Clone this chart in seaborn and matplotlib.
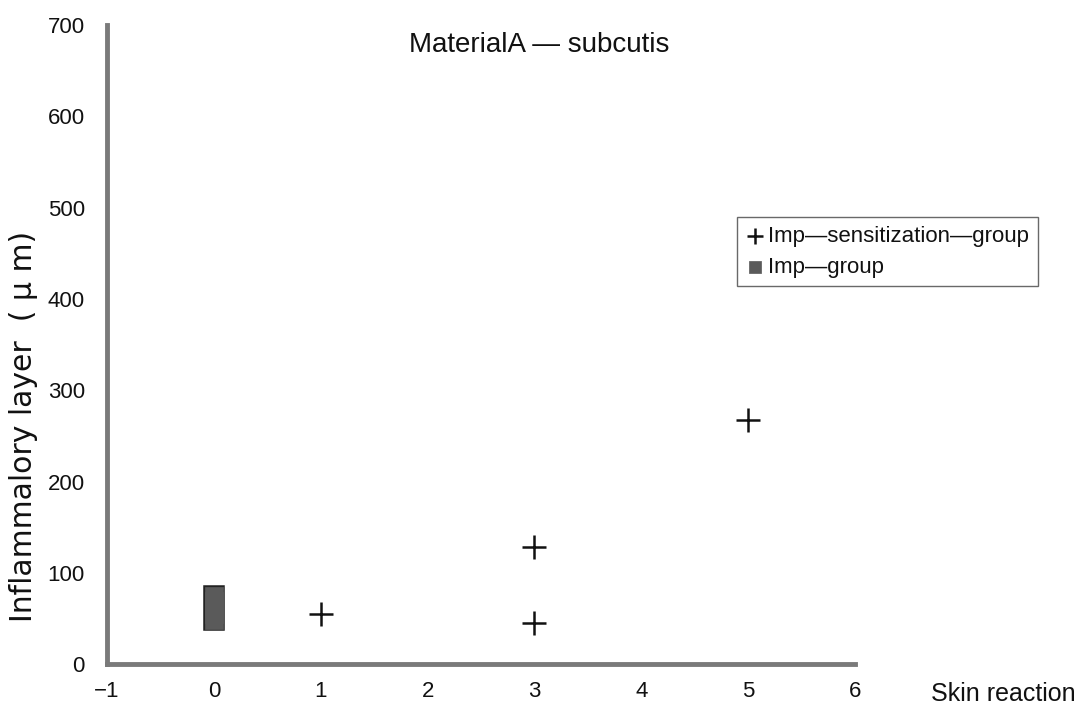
import matplotlib
matplotlib.use("Agg")
import matplotlib.pyplot as plt
import seaborn as sns
import pandas as pd

# Imp-sensitization-group: skin reaction score vs inflammatory layer thickness
sens_x = [1, 3, 3, 5]
sens_y = [55, 128, 45, 268]
# Imp-group: all at skin reaction 0
imp_x = [0, 0, 0, 0, 0]
imp_y = [48, 55, 62, 69, 75]

x_ticks = [-1, 0, 1, 2, 3, 4, 5, 6]
y_ticks = [0, 100, 200, 300, 400, 500, 600, 700]

sns.set_style("white")
plt.rcParams["font.family"] = ["Liberation Sans", "DejaVu Sans"]

fig = plt.figure(figsize=(10.81, 7.15), dpi=100)
ax = fig.add_axes([0.099, 0.071, 0.692, 0.894])

imp = pd.DataFrame({"x": imp_x, "y": imp_y})
sens = pd.DataFrame({"x": sens_x, "y": sens_y})

sns.scatterplot(data=imp, x="x", y="y", ax=ax, marker="s", s=150,
                color="#5a5a5a", edgecolor="#5a5a5a", linewidth=0.5,
                label="Imp\u2014group", zorder=3)
sns.scatterplot(data=sens, x="x", y="y", ax=ax, marker="+", s=300,
                color="#111111", linewidth=1.8,
                label="Imp\u2014sensitization\u2014group", zorder=4)
# darker outline of the Imp-group column
ax.plot([0, 0], [min(imp_y), max(imp_y)], color="#222222", lw=15.5,
        solid_capstyle="projecting", zorder=2)

ax.set_xlim(-1, 6)
ax.set_ylim(0, 700)
ax.set_xticks(x_ticks)
ax.set_yticks(y_ticks)
ax.tick_params(axis="both", direction="in", length=7, width=3,
               color="#666666", labelsize=16, labelcolor="#111111")
ax.tick_params(axis="y", pad=16)
ax.tick_params(axis="x", pad=12)

for side in ["top", "right"]:
    ax.spines[side].set_visible(False)
for side in ["left", "bottom"]:
    ax.spines[side].set_linewidth(3.5)
    ax.spines[side].set_color("#7a7a7a")

ax.set_xlabel("")
ax.set_ylabel("")
fig.text(0.022, 0.403, "Inflammalory layer  ( \u03bc m)", rotation=90,
         ha="center", va="center", fontsize=21.5, color="#111111",
         family=["DejaVu Sans"])
fig.text(0.995, 0.03, "Skin reaction", ha="right", va="center",
         fontsize=18, color="#111111")
fig.text(0.499, 0.937, "MaterialA \u2014 subcutis", ha="center",
         va="center", fontsize=20, color="#111111")

handles, labels = ax.get_legend_handles_labels()
leg = fig.legend(handles[::-1], labels[::-1], loc="upper left",
                 bbox_to_anchor=(0.682, 0.697), frameon=True, fontsize=16,
                 handletextpad=0.2, handlelength=0.8, borderpad=0.4,
                 fancybox=False, edgecolor="#444444", markerscale=0.7,
                 labelspacing=0.45, borderaxespad=0)
leg.get_frame().set_linewidth(1.0)
for t in leg.get_texts():
    t.set_color("#111111")
if ax.get_legend():
    ax.get_legend().remove()

fig.savefig("out.png", dpi=100)
